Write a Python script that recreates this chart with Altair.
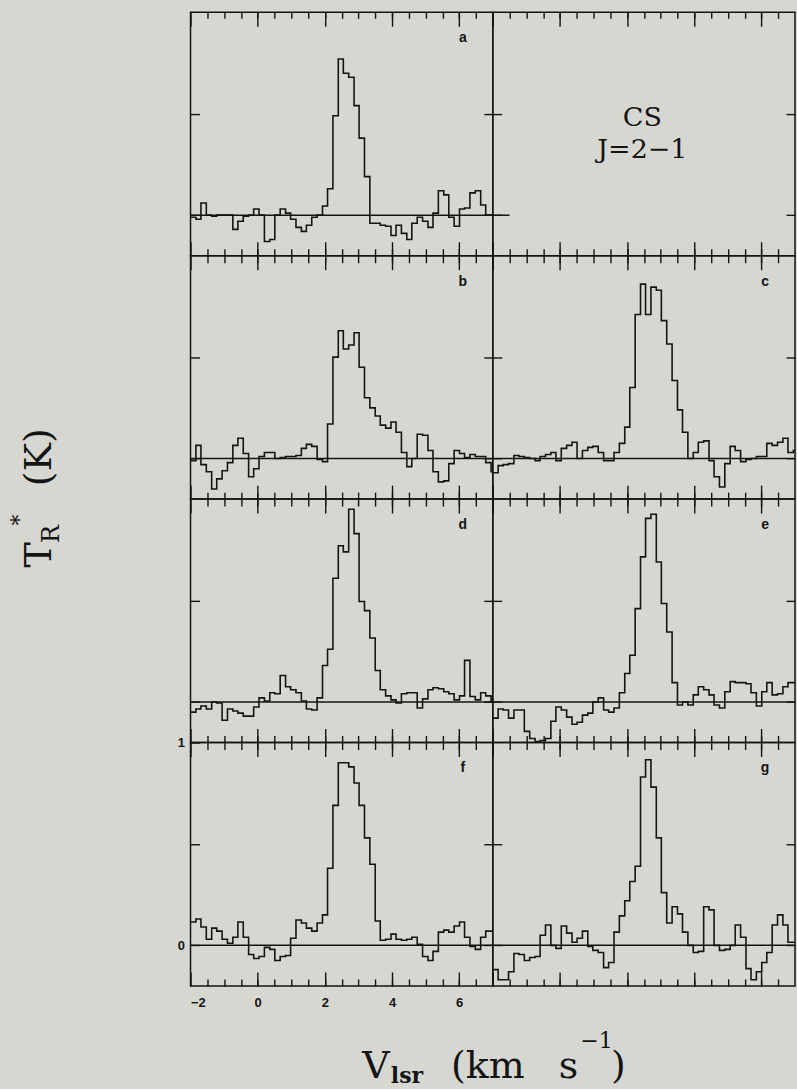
import altair as alt
import pandas as pd

# ---------------- data ----------------
# left edges of the spectrometer channels (km/s), plus the closing edge of the last one
V_EDGES = [-2.00, -1.84, -1.69, -1.53, -1.37, -1.22, -1.06, -0.90, -0.74, -0.59,
           -0.43, -0.27, -0.12, 0.04, 0.20, 0.36, 0.51, 0.67, 0.83, 0.98,
           1.14, 1.30, 1.45, 1.61, 1.77, 1.93, 2.08, 2.24, 2.40, 2.55,
           2.71, 2.87, 3.02, 3.18, 3.34, 3.50, 3.65, 3.81, 3.97, 4.12,
           4.28, 4.44, 4.59, 4.75, 4.91, 5.07, 5.22, 5.38, 5.54, 5.69,
           5.85, 6.01, 6.16, 6.32, 6.48, 6.64, 6.79, 6.95, 7.11]

# T_R* (K) per channel, panels a-g
TA = [-0.01, -0.02, 0.06, 0.0, -0.005, 0.0, 0.0, 0.0, -0.07, -0.03,
      -0.005, 0.0, 0.03, 0.0, -0.13, -0.12, 0.0, 0.03, 0.01, -0.02,
      -0.06, -0.08, -0.05, -0.01, 0.0, 0.045, 0.13, 0.49, 0.77, 0.70,
      0.68, 0.54, 0.38, 0.19, -0.04, -0.04, -0.05, -0.055, -0.10, -0.05,
      -0.09, -0.12, -0.04, -0.01, -0.03, -0.06, 0.01, 0.12, 0.10, -0.01,
      -0.055, 0.03, 0.035, 0.11, 0.12, 0.05, 0.0, 0.0]
TB = [-0.01, 0.065, -0.03, -0.065, -0.15, -0.10, -0.06, -0.02, 0.065, 0.10,
      0.025, -0.09, -0.05, 0.01, 0.03, 0.03, 0.0, 0.005, 0.01, 0.01,
      0.015, 0.05, 0.07, 0.06, -0.005, -0.015, 0.17, 0.50, 0.63, 0.54,
      0.56, 0.62, 0.45, 0.30, 0.25, 0.21, 0.165, 0.15, 0.18, 0.13,
      0.03, -0.04, 0.0, 0.12, 0.115, 0.04, -0.065, -0.115, -0.11, -0.025,
      0.04, 0.025, 0.005, 0.02, 0.01, 0.01, -0.02, -0.065]
TC = [-0.07, -0.035, -0.03, -0.025, 0.015, 0.01, 0.005, 0.0, -0.01, 0.01,
      0.02, 0.03, -0.01, 0.05, 0.065, 0.08, 0.0, 0.04, 0.055, 0.06,
      0.03, -0.01, -0.01, 0.03, 0.075, 0.155, 0.35, 0.71, 0.86, 0.71,
      0.845, 0.83, 0.68, 0.565, 0.385, 0.24, 0.13, 0.0, 0.03, 0.08,
      0.087, -0.01, -0.09, -0.14, -0.025, 0.06, 0.04, -0.015, -0.005, 0.0,
      0.01, 0.01, 0.075, 0.065, 0.08, 0.10, 0.03, 0.04]
TD = [-0.05, -0.035, -0.02, -0.035, 0.0, -0.005, -0.09, -0.035, -0.045, -0.055,
      -0.07, -0.07, -0.025, 0.02, 0.005, 0.045, 0.04, 0.13, 0.075, 0.06,
      0.045, 0.005, -0.035, -0.04, 0.02, 0.18, 0.26, 0.61, 0.77, 0.74,
      0.95, 0.83, 0.495, 0.45, 0.315, 0.155, 0.06, 0.03, 0.01, -0.005,
      0.04, 0.045, 0.045, -0.03, 0.015, 0.06, 0.07, 0.065, 0.05, 0.04,
      0.01, 0.03, 0.205, 0.027, 0.01, 0.045, 0.03, 0.0]
TE = [-0.08, -0.035, -0.04, -0.08, -0.04, -0.04, -0.145, -0.18, -0.195, -0.19,
      -0.18, -0.095, -0.025, -0.04, -0.075, -0.11, -0.10, -0.065, -0.055, 0.0,
      0.02, -0.04, -0.05, -0.03, 0.045, 0.14, 0.23, 0.46, 0.715, 0.905,
      0.925, 0.69, 0.485, 0.345, 0.095, -0.015, 0.0, -0.015, 0.035, 0.075,
      0.06, 0.035, -0.015, -0.03, 0.05, 0.10, 0.095, 0.095, 0.09, 0.045,
      -0.02, 0.05, 0.095, 0.035, 0.04, 0.075, 0.095, 0.095]
TF = [0.115, 0.13, 0.09, 0.03, 0.085, 0.07, 0.03, 0.01, 0.04, 0.115,
      0.04, -0.045, -0.065, -0.055, -0.01, -0.02, -0.075, -0.055, -0.05, 0.035,
      0.125, 0.11, 0.085, 0.07, 0.11, 0.15, 0.38, 0.69, 0.90, 0.90,
      0.88, 0.80, 0.69, 0.53, 0.40, 0.12, 0.025, 0.03, 0.055, 0.03,
      0.025, 0.03, 0.04, 0.005, -0.055, -0.075, -0.03, 0.065, 0.075, 0.065,
      0.095, 0.115, 0.04, -0.005, -0.02, 0.04, 0.07, 0.07]
TG = [-0.12, -0.17, -0.17, -0.13, -0.04, -0.045, -0.075, -0.06, -0.055, 0.05,
      0.10, 0.0, -0.015, 0.095, 0.06, 0.015, 0.035, 0.07, -0.005, -0.025,
      -0.035, -0.11, -0.085, 0.065, 0.145, 0.22, 0.315, 0.39, 0.83, 0.915,
      0.78, 0.53, 0.26, 0.11, 0.19, 0.155, 0.065, 0.0, -0.035, -0.03,
      0.19, 0.175, 0.0, -0.025, -0.02, 0.0, 0.10, 0.04, -0.115, -0.17,
      -0.13, -0.085, -0.035, 0.10, 0.15, 0.10, 0.015, 0.015]

X_DOMAIN = [-2, 7]
Y_DOMAIN = [-0.2, 1.0]
MINOR_TICKS = [-1.5, -1, -0.5, 0, 0.5, 1, 1.5, 2, 2.5, 3, 3.5, 4, 4.5, 5, 5.5, 6, 6.5]
MAJOR_TICKS = [-2, 0, 2, 4, 6]
Y_TICKS = [0, 0.5]

# ---------------- style ----------------
INK = "#141414"
BG = "#d7d7d1"
SERIF = "DejaVu Serif"
SANS = "Liberation Sans"
W, H = 303, 244

XS = alt.Scale(domain=X_DOMAIN, nice=False, zero=False)
YS = alt.Scale(domain=Y_DOMAIN, nice=False, zero=False)
ONE = pd.DataFrame({"k": [0]})


def axis(orient, values, size, offset, labels=False, **kw):
    return alt.Axis(orient=orient, values=values, tickSize=size, offset=offset,
                    domain=False, grid=False, title=None, labels=labels,
                    tickColor=INK, tickWidth=1.4, **kw)


def carrier(xax, yax):
    # invisible layer that only carries one x axis and one y axis
    return alt.Chart(ONE).mark_point(opacity=0).encode(
        x=alt.XDatum(0, type="quantitative", scale=XS, axis=xax),
        y=alt.YDatum(0, type="quantitative", scale=YS, axis=yax),
    )


def trace(vals):
    df = pd.DataFrame({"v": V_EDGES, "T": vals + vals[-1:]})
    return alt.Chart(df).mark_line(interpolate="step-after", color=INK,
                                   strokeWidth=1.6, clip=True).encode(
        x=alt.X("v:Q", scale=XS, axis=None),
        y=alt.Y("T:Q", scale=YS, axis=None),
    )


def baseline(x_end=7):
    return alt.Chart(ONE).mark_rule(color=INK, strokeWidth=1.5).encode(
        x=alt.XDatum(-2, type="quantitative", scale=XS, axis=None),
        x2=alt.X2Datum(x_end),
        y=alt.YDatum(0, type="quantitative", scale=YS, axis=None),
    )


def label(txt, x, y, size, font=SERIF, weight="normal", angle=0,
          align="center", baseline_="alphabetic"):
    return alt.Chart(ONE).mark_text(text=txt, font=font, fontSize=size,
                                    fontWeight=weight, color=INK, angle=angle,
                                    align=align, baseline=baseline_).encode(
        x=alt.value(x), y=alt.value(y))


def letter(ch):
    return label(ch, 273, 26, 14, font=SANS, weight="bold", baseline_="middle")


def panel(row, col, layers):
    last = row == 3
    if last:
        bmin = axis("bottom", MINOR_TICKS, 7, -7)
        if col == 0:
            bmaj = axis("bottom", MAJOR_TICKS, 14, -14, labels=True,
                        labelFont=SANS, labelFontWeight="bold", labelFontSize=13,
                        labelColor=INK, labelPadding=11)
        else:
            bmaj = axis("bottom", MAJOR_TICKS, 14, -14)
    else:
        bmin = axis("bottom", MINOR_TICKS, 14, -7)
        bmaj = axis("bottom", MAJOR_TICKS, 28, -14)
    if col == 0:
        if last:
            yl = axis("left", [0, 0.5, 1], 9, -9, labels=True,
                      labelExpr="datum.value == 1 ? '1' : (datum.value == 0 ? '0' : '')",
                      labelFont=SANS, labelFontWeight="bold", labelFontSize=13,
                      labelColor=INK, labelPadding=6)
        else:
            yl = axis("left", Y_TICKS, 9, -9)
        yr = axis("right", Y_TICKS, 18, -9)
    else:
        yl = None
        yr = axis("right", Y_TICKS, 9, -9)
    carriers = [carrier(bmin, yl), carrier(bmaj, yr)]
    if row == 0:
        carriers += [carrier(axis("top", MINOR_TICKS, 6, -6), None),
                     carrier(axis("top", MAJOR_TICKS, 14, -14), None)]
    return alt.layer(*layers, *carriers).resolve_axis(
        x="independent", y="independent").properties(width=W, height=H)


# y-axis title pieces (placed relative to panel b)
y_title = [
    label("T", -140, 300, 38, angle=270),
    label("R", -132, 279, 24, angle=270),
    label("*", -164, 265, 22, angle=270),
    label("(K)", -140, 202, 38, angle=270),
]
# x-axis title pieces (placed relative to panel f)
x_title = [
    label("V", 186, 336, 38),
    label("lsr", 217, 341, 22, weight="bold"),
    label("(km", 298, 336, 38),
    label("s", 379, 336, 38),
    label("\u22121", 407, 306, 22),
    label(")", 429, 336, 38),
]

pa = panel(0, 0, [baseline(7.5), trace(TA), letter("a")])
pcs = panel(0, 1, [label("CS", 150, 114, 27), label("J=2\u22121", 150, 146, 27)])
pb = panel(1, 0, [baseline(), trace(TB), letter("b")] + y_title)
pc = panel(1, 1, [baseline(), trace(TC), letter("c")])
pd_ = panel(2, 0, [baseline(), trace(TD), letter("d")])
pe = panel(2, 1, [baseline(), trace(TE), letter("e")])
pf = panel(3, 0, [baseline(), trace(TF), letter("f")] + x_title)
pg = panel(3, 1, [baseline(), trace(TG), letter("g")])

chart = alt.concat(pa, pcs, pb, pc, pd_, pe, pf, pg,
                   columns=2, spacing=0, bounds="flush").properties(
    background=BG,
    padding={"left": 8, "top": 9, "right": 0, "bottom": 0},
).configure_view(stroke=INK, strokeWidth=1.5)

chart.save("out.html", embed_options={"renderer": "svg", "actions": False})
